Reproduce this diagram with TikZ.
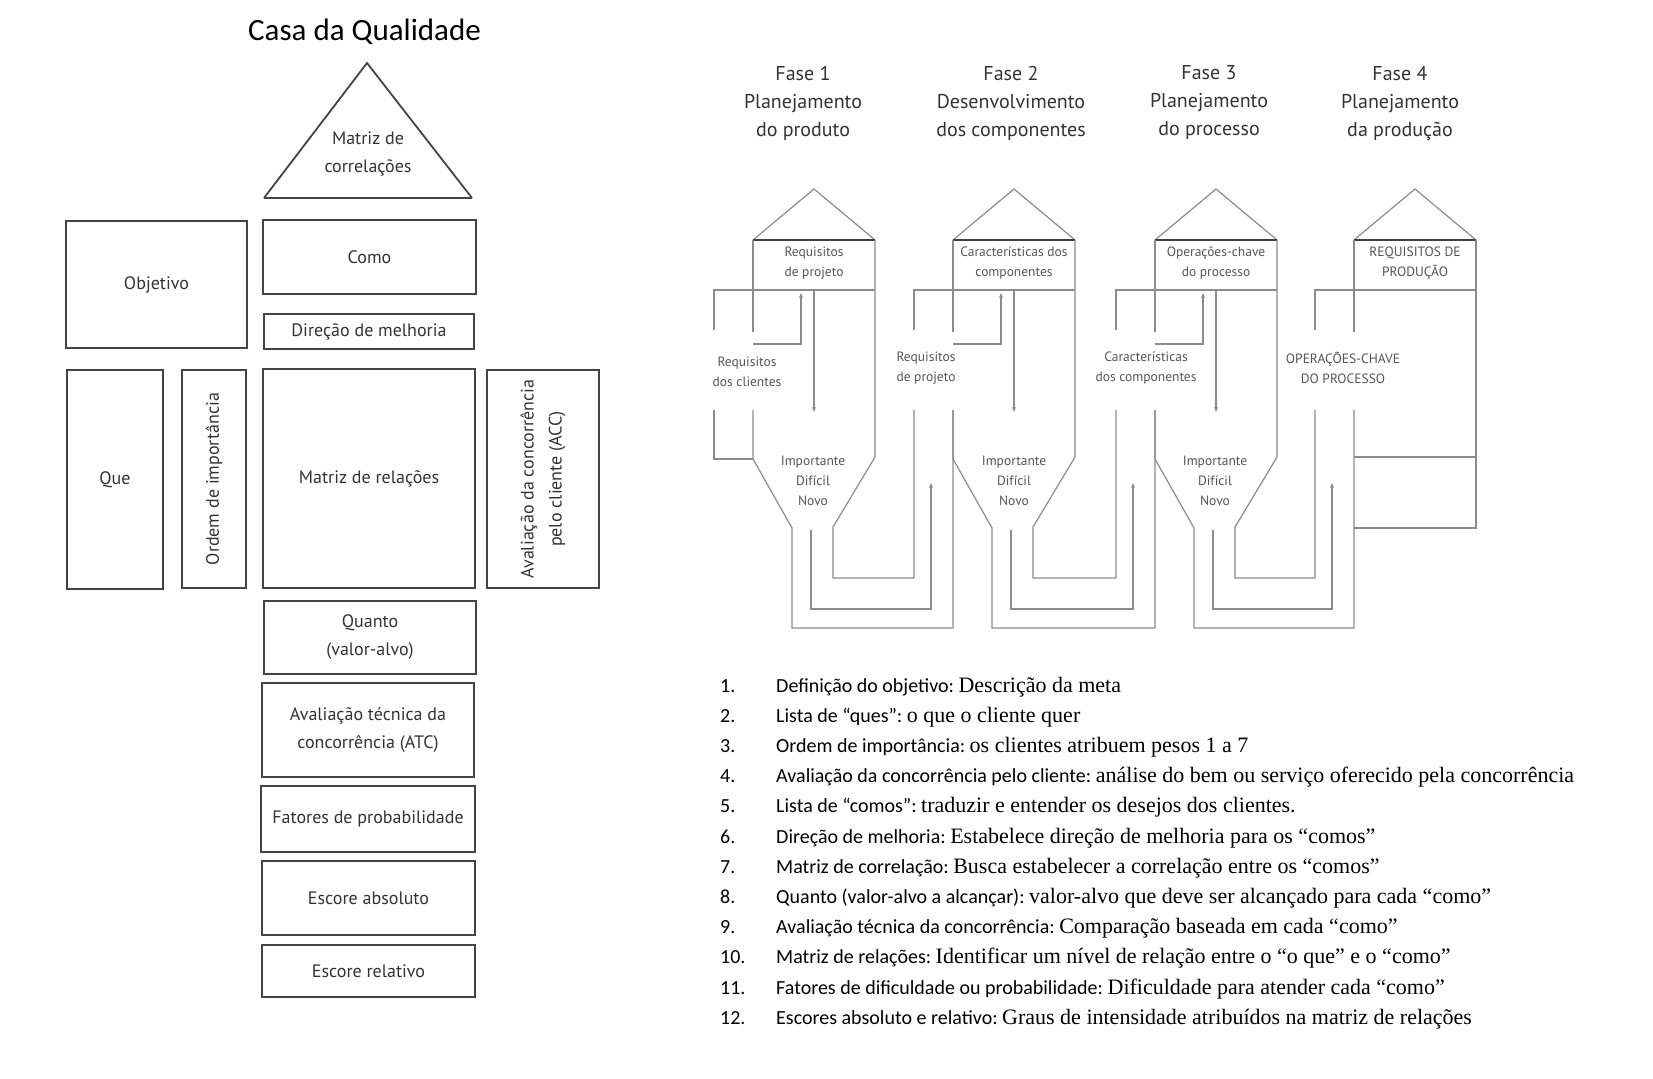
\documentclass[tikz,border=0pt]{standalone}
\usepackage{fontspec}
\setmainfont{Liberation Serif}
\newfontfamily\calibri{Carlito}
\newfontfamily\myriad{PT Sans}
\usetikzlibrary{arrows.meta}

\definecolor{boxline}{HTML}{444444}
\definecolor{flowline}{HTML}{8C8C8C}
\definecolor{flowtext}{HTML}{555555}

\tikzset{%
        qline/.style={
            draw=boxline,
            line width=1.8pt
        },
        qtext/.style={
            font=\myriad\fontsize{18}{28}\selectfont,
            text=black!80,
            align=center
        },
        qbox/.style={
            qline,
            qtext,
            rectangle,
            inner sep=0pt
        },
        flow/.style={
            draw=flowline,
            line width=1.2pt
        },
        flow arrow/.style={
            flow,
            -{Stealth[length=5pt,width=4pt]}
        },
        roof base/.style={
            draw=black!75,
            line width=2.4pt
        },
        ftext/.style={
            font=\myriad\fontsize{13.5}{20}\selectfont,
            text=flowtext,
            align=center
        },
        phase/.style={
            font=\myriad\fontsize{20}{28}\selectfont,
            text=black!80,
            align=center
        },
    }

\begin{document}
\begin{tikzpicture}[x=1pt, y=-1pt]

        \useasboundingbox[fill=white] (0,0) rectangle (1653,1078);

        % casa da qualidade
        \node [anchor=base, font=\calibri\fontsize{31}{36}\selectfont] (title) at (364.5,41) {Casa da Qualidade};

        \draw [qline] (264,198) -- (367,63) -- (472,198);
        \draw [qline, line width=2.8pt] (264,198) -- (472,198);
        \node [qtext] (correlacoes) at (368,154) {Matriz de\\correlações};

        \foreach \nm/\cx/\cy/\w/\h/\txt in {
            objetivo/156.5/284.5/181pt/127pt/{Objetivo},
            como/369.5/257/213pt/74pt/{Como},
            direcao/369/331.5/210pt/35pt/{Direção de melhoria},
            que/115/479.5/96pt/219pt/{Que},
            relacoes/369/478.5/212pt/219pt/{Matriz de relações},
            quanto/370/637.5/212pt/73pt/{Quanto\\(valor-alvo)},
            atc/368/730/212pt/94pt/{Avaliação técnica da\\concorrência (ATC)},
            fatores/368/819/214pt/66pt/{Fatores de probabilidade},
            absoluto/368.5/898/213pt/74pt/{Escore absoluto},
            relativo/368.5/971/213pt/52pt/{Escore relativo}}
        \node [qbox, minimum width=\w, minimum height=\h] (\nm) at (\cx,\cy) {\txt};

        \node [qbox, rotate=90, minimum width=218pt, minimum height=64pt] (ordem) at (214,479) {Ordem de importância};
        \node [qbox, rotate=90, minimum width=218pt, minimum height=112pt] (acc) at (543,479) {Avaliação da concorrência\\pelo cliente (ACC)};

        % fases
        \foreach \x/\l [count=\n] in {803/{Fase 1\\Planejamento\\do produto}, 1011/{Fase 2\\Desenvolvimento\\dos componentes}, 1209/{Fase 3\\Planejamento\\do processo}, 1400/{Fase 4\\Planejamento\\da produção}}
        \node [phase] (fase-\n) at (\x,103) {\l};

        \foreach \L/\t [count=\n] in {753/{Requisitos\\de projeto}, 953/{Características dos\\componentes}, 1155/{Operações-chave\\do processo}, 1354/{REQUISITOS DE\\PRODUÇÃO}} {
            \draw [flow] (\L,240) -- ({\L+61},189) -- ({\L+122},240);
            \draw [roof base] (\L,240) -- ({\L+122},240);
            \draw [flow] ({\L-39},330) -- ({\L-39},290) -- ({\L+122},290);
            \draw [flow] (\L,240) -- (\L,332);
            \node [ftext] (box-\n) at ({\L+61},263) {\t};
        }

        \foreach \L/\N in {753/953, 953/1155, 1155/1354} {
            \draw [flow] ({\L+122},240) -- ({\L+122},457) -- ({\L+80},527) -- ({\L+80},578) -- ({\N-39},578) -- ({\N-39},410);
            \draw [flow] (\L,410) -- (\L,459) -- ({\L+39},528) -- ({\L+39},628) -- (\N,628) -- (\N,410);
            \draw [flow arrow] ({\L+58},530) -- ({\L+58},609) -- ({\N-22},609) -- ({\N-22},483);
            \draw [flow arrow] (\L,344) -- ({\L+48},344) -- ({\L+48},293);
            \draw [flow arrow] ({\L+61},290) -- ({\L+61},412);
        }

        \draw [flow] (714,410) -- (714,459) -- (753,459);
        \draw [flow] (1476,240) -- (1476,528) -- (1354,528);
        \draw [flow] (1354,457) -- (1476,457);

        \foreach \x/\y/\l [count=\n] in {747/372/{Requisitos\\dos clientes}, 926/368/{Requisitos\\de projeto}, 1146/368/{Características\\dos componentes}, 1343/368/{OPERAÇÕES-CHAVE\\DO PROCESSO}}
        \node [ftext] (room-\n) at (\x,\y) {\l};

        \foreach \x [count=\n] in {813,1014,1215}
        \node [ftext] (funil-\n) at (\x,481) {Importante\\Difícil\\Novo};

        % lista
        \foreach \lab/\desc [count=\i] in {
            {Definição do objetivo:}/{Descrição da meta},
            {Lista de “ques”:}/{o que o cliente quer},
            {Ordem de importância:}/{os clientes atribuem pesos 1 a 7},
            {Avaliação da concorrência pelo cliente:}/{análise do bem ou serviço oferecido pela concorrência},
            {Lista de “comos”:}/{traduzir e entender os desejos dos clientes.},
            {Direção de melhoria:}/{Estabelece direção de melhoria para os “comos”},
            {Matriz de correlação:}/{Busca estabelecer a correlação entre os “comos”},
            {Quanto (valor-alvo a alcançar):}/{valor-alvo que deve ser alcançado para cada “como”},
            {Avaliação técnica da concorrência:}/{Comparação baseada em cada “como”},
            {Matriz de relações:}/{Identificar um nível de relação entre o “o que” e o “como”},
            {Fatores de dificuldade ou probabilidade:}/{Dificuldade para atender cada “como”},
            {Escores absoluto e relativo:}/{Graus de intensidade atribuídos na matriz de relações}} {
            \node [anchor=base west, inner sep=0pt, font=\calibri\fontsize{20}{24}\selectfont] (num-\i) at (720,{692+30.2*(\i-1)}) {\i.};
            \node [anchor=base west, inner sep=0pt, font=\fontsize{22}{24}\selectfont] (item-\i) at (776,{692+30.2*(\i-1)}) {{\calibri\fontsize{20}{24}\selectfont\lab\ }\desc};
        }
\end{tikzpicture}
\end{document}
